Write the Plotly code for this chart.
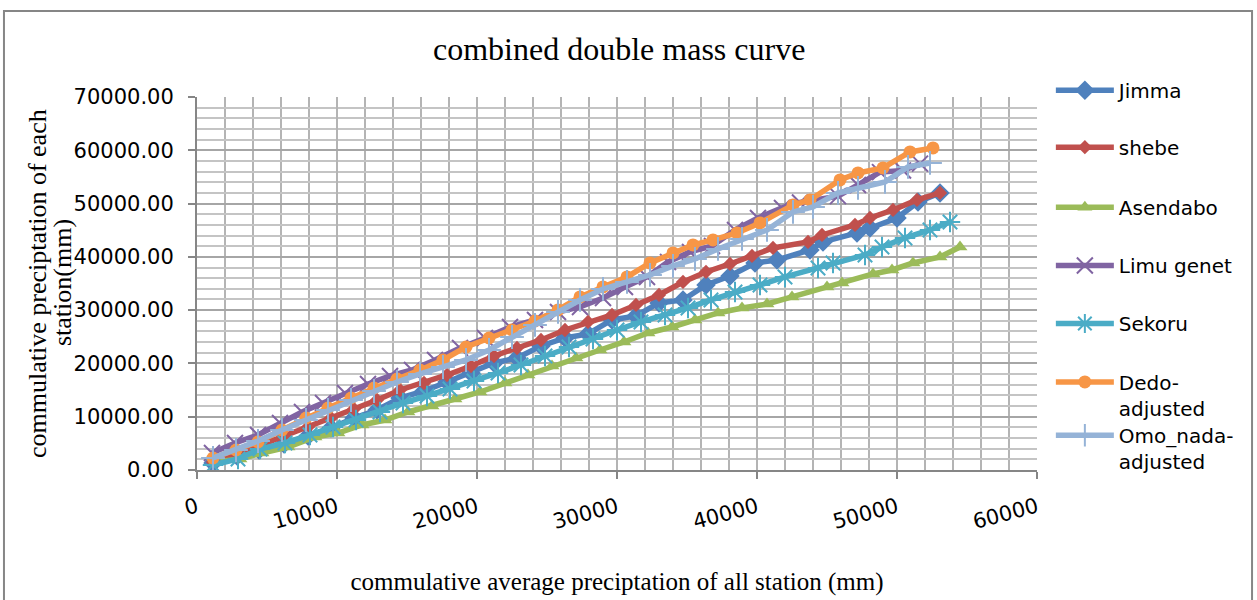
import plotly.graph_objects as go

# ---- data ----
series_names = ["Jimma", "shebe", "Asendabo", "Limu genet", "Sekoru",
                "Dedo-<br>adjusted", "Omo_nada-<br>adjusted"]

jimma_x = [1143, 2857, 4429, 6214, 7929, 9571, 11214, 12857, 14500, 16214, 17857, 19571, 21214, 22857, 24571, 26286,
           27929, 29643, 31357, 33000, 34714, 36357, 38071, 39857, 41429, 43786, 44714, 47143, 48071, 50000, 51500, 53071]
jimma_y = [1314, 2628, 3754, 4880, 6382, 7883, 9760, 11262, 13514, 14828, 16518, 18207, 20084, 21022, 23275, 24776,
           25527, 28155, 28906, 31346, 31909, 34725, 36414, 38854, 39417, 41294, 42796, 44485, 45423, 47300, 50304, 51993]

shebe_x = [1143, 2857, 4429, 6214, 7929, 9571, 11214, 12857, 14500, 16214, 17857, 19571, 21214, 22857, 24571, 26286,
           27929, 29643, 31357, 33000, 34714, 36357, 38071, 39643, 41143, 43643, 44643, 47000, 48071, 49714, 51429, 53071]
shebe_y = [1502, 3003, 4505, 6382, 8071, 9760, 11450, 13139, 15016, 16330, 17832, 19521, 21398, 22899, 24401, 26278,
           27780, 29094, 30971, 32848, 35288, 37165, 38666, 40168, 41669, 42796, 44110, 45987, 47300, 48802, 50679, 51993]

asendabo_x = [1286, 3071, 4643, 6500, 8429, 10071, 11786, 13429, 15071, 16786, 18429, 20214, 22000, 23643, 25357, 27071,
              28786, 30500, 32214, 33929, 35571, 37214, 38929, 40714, 42500, 45000, 46071, 48286, 49643, 51143, 53071, 54500]
asendabo_y = [1500, 2065, 3190, 4317, 6194, 6945, 8447, 9385, 10887, 12013, 13327, 14641, 16330, 17832, 19521, 21022,
              22524, 24026, 25715, 26841, 28155, 29469, 30407, 31158, 32472, 34349, 35100, 36789, 37540, 38854, 39980, 41857]

limu_x = [1071, 2714, 4357, 5929, 7500, 9000, 10571, 12214, 13786, 15357, 17000, 18786, 20571, 22357, 24143, 25786,
          27357, 29000, 30571, 32143, 33643, 35214, 36786, 38429, 40071, 41786, 43071, 45786, 47214, 48786, 50429, 51643]
limu_y = [3191, 5068, 6570, 8822, 10887, 12576, 14453, 16142, 17644, 18770, 20647, 22899, 24776, 26841, 28155, 29657,
          30595, 32284, 34349, 36226, 39042, 40919, 42045, 45048, 47300, 49177, 50200, 51400, 53500, 55900, 56200, 57500]

sekoru_x = [1143, 2929, 4500, 6286, 8071, 9714, 11357, 13071, 14714, 16429, 18071, 19786, 21500, 23143, 24857, 26571,
            28286, 30000, 31714, 33429, 35071, 36714, 38429, 40214, 42000, 44357, 45429, 47714, 48929, 50571, 52357, 53786]
sekoru_y = [939, 2065, 3942, 5068, 6570, 8071, 9385, 10887, 12576, 13890, 15204, 16705, 18207, 19709, 21398, 23087,
            24589, 26278, 27780, 29094, 30407, 31909, 33411, 34725, 36226, 37915, 38854, 40356, 41857, 43546, 45048, 46550]

dedo_x = [1143, 2786, 4357, 6071, 7786, 9357, 11000, 12643, 14286, 15929, 17571, 19214, 20857, 22500, 24143, 25786,
          27357, 29000, 30714, 32357, 34000, 35429, 36857, 38571, 40214, 42571, 43786, 45929, 47214, 49000, 50929, 52571]
dedo_y = [2252, 3754, 5256, 7508, 9760, 11637, 13514, 15391, 17081, 18770, 20647, 23087, 24776, 26278, 27967, 30032,
          32472, 34349, 36226, 38854, 40731, 42233, 43171, 44485, 46362, 49741, 50679, 54433, 55747, 56685, 59689, 60439]

omo_x = [1143, 2786, 4357, 6071, 7786, 9357, 11000, 12643, 14286, 15929, 17571, 19214, 20857, 22500, 24143, 25786,
         27357, 29000, 30714, 32357, 34000, 35571, 37214, 38929, 40714, 42571, 44000, 45786, 47214, 49143, 50786, 52357]
omo_y = [2252, 3754, 5443, 7508, 9385, 11262, 13139, 14828, 16518, 18019, 19333, 20647, 22524, 24964, 27217, 29657,
         31909, 33974, 35288, 36602, 38291, 39605, 41482, 43359, 45048, 48427, 49365, 51993, 52931, 54058, 56873, 57624]

x_ticks = [0, 10000, 20000, 30000, 40000, 50000, 60000]
y_ticks = [0, 10000, 20000, 30000, 40000, 50000, 60000, 70000]
y_title_lines = ["commulative preciptation of each", "station(mm)"]

# ---- styles ----
colors = ["#4F81BD", "#C0504D", "#9BBB59", "#8064A2", "#4BACC6", "#F79646", "#95B3D7"]
markers = [
    dict(symbol="diamond", size=15),
    dict(symbol="diamond", size=11),
    dict(symbol="triangle-up", size=13),
    dict(symbol="x-thin-open", size=16, line=dict(width=2)),
    dict(symbol="asterisk-open", size=17, line=dict(width=2)),
    dict(symbol="circle", size=13),
    dict(symbol="cross-thin-open", size=17, line=dict(width=2)),
]
xs = [jimma_x, shebe_x, asendabo_x, limu_x, sekoru_x, dedo_x, omo_x]
ys = [jimma_y, shebe_y, asendabo_y, limu_y, sekoru_y, dedo_y, omo_y]

# legend item centres (paper coords)
legend_y = [1.0184, 0.8656, 0.7047, 0.5482, 0.3927, 0.2013, 0.0585]

fig = go.Figure()
for i in range(7):
    m = dict(markers[i])
    m["color"] = colors[i]
    if "line" in m:
        m["line"] = dict(m["line"], color=colors[i])
    lg = "legend" if i == 0 else f"legend{i+1}"
    fig.add_trace(go.Scatter(
        x=xs[i], y=ys[i], mode="lines+markers", name=series_names[i],
        line=dict(color=colors[i], width=5.5), marker=m, legend=lg, showlegend=True,
    ))

legend_common = dict(
    x=1.0165, xanchor="left", yanchor="middle", bgcolor="rgba(0,0,0,0)",
    font=dict(family="DejaVu Sans", size=20, color="#000000"),
    itemwidth=58, valign="top", itemclick=False, visible=True,
)
layout_legends = {}
for i in range(7):
    key = "legend" if i == 0 else f"legend{i+1}"
    layout_legends[key] = dict(legend_common, y=legend_y[i])

serif = "Liberation Serif"
grid_col = "#B4B4B4"
ytitle_x = [-0.1905, -0.1607]
fig.update_layout(
    width=1257, height=600,
    showlegend=True,
    margin=dict(l=197, r=220, t=97, b=130),
    paper_bgcolor="white", plot_bgcolor="white",
    title=dict(text="combined double mass curve", x=0.5026, xref="paper", xanchor="center",
               y=0.918, yanchor="middle",
               font=dict(family=serif, size=32, color="#000000")),
    xaxis=dict(
        range=[0, 60000], tickvals=x_ticks, ticktext=[str(v) for v in x_ticks],
        tickangle=-15, ticks="outside", ticklen=7, tickcolor="#868686", tickwidth=2,
        ticklabelstandoff=8, automargin=False,
        showline=True, linecolor="#868686", linewidth=2,
        showgrid=True, gridcolor=grid_col, gridwidth=2,
        minor=dict(dtick=2000, tick0=0, showgrid=True, gridcolor=grid_col, gridwidth=2),
        zeroline=False,
        tickfont=dict(family="DejaVu Sans", size=21, color="#000000"),
        title=dict(text="commulative average preciptation of all station (mm)", standoff=40,
                   font=dict(family=serif, size=25, color="#000000")),
    ),
    yaxis=dict(
        range=[0, 70000], tickvals=y_ticks, tickformat=".2f",
        ticks="outside", ticklen=7, tickcolor="#868686", tickwidth=2,
        ticklabelstandoff=10, automargin=False,
        showline=True, linecolor="#868686", linewidth=2,
        showgrid=True, gridcolor="#A6A6A6", gridwidth=2,
        minor=dict(dtick=2000, tick0=0, showgrid=True, gridcolor="#C4C4C4", gridwidth=2),
        zeroline=False,
        tickfont=dict(family="DejaVu Sans", size=21, color="#000000"),
    ),
    annotations=[dict(
        text=y_title_lines[k], textangle=-90,
        xref="paper", yref="paper", x=ytitle_x[k], y=0.5013, xanchor="center", yanchor="middle",
        showarrow=False, font=dict(family=serif, size=26, color="#000000"),
    ) for k in range(2)],
    shapes=[dict(type="rect", xref="paper", yref="paper",
                 x0=-0.2298, x1=1.2560, y0=-0.36, y1=1.2306,
                 line=dict(color="#868686", width=2), fillcolor="rgba(0,0,0,0)", layer="below")],
    **layout_legends,
)

fig.write_html("out.html")
